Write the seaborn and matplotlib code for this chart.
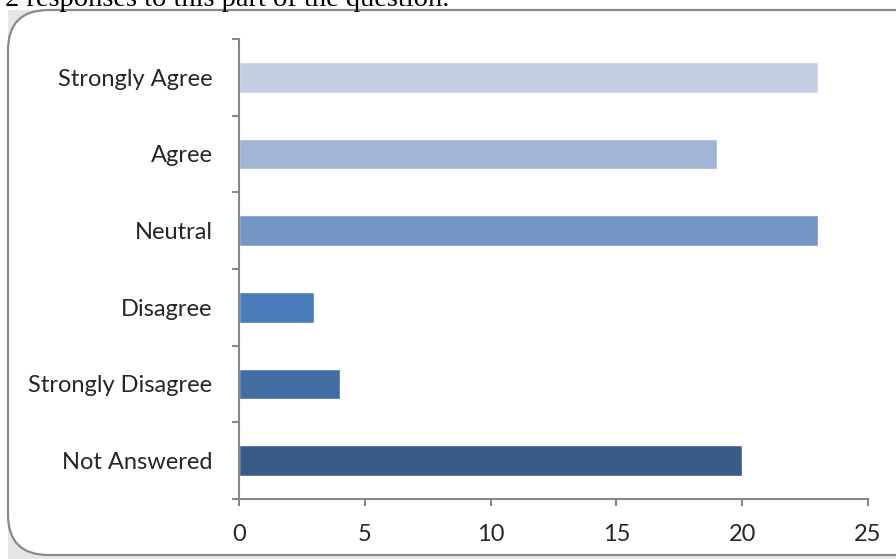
import matplotlib
matplotlib.use("Agg")
import matplotlib.pyplot as plt
from matplotlib.patches import FancyBboxPatch, Rectangle
from matplotlib.ticker import FixedLocator
import seaborn as sns
import pandas as pd

# Data (top to bottom)
categories = ["Strongly Agree", "Agree", "Neutral", "Disagree",
              "Strongly Disagree", "Not Answered"]
counts = [23, 19, 23, 3, 4, 20]
bar_colors = ["#C3CEE2", "#A2B5D6", "#7396C5", "#4A7EBB", "#426DA2", "#395B87"]
x_ticks = [0, 5, 10, 15, 20, 25]
caption = "2 responses to this part of the question."

df = pd.DataFrame({"response": categories, "count": counts})

sns.set_style("white")
plt.rcParams['font.family'] = ['Lato', 'DejaVu Sans']

W, H = 896, 559
fig = plt.figure(figsize=(W / 100, H / 100), dpi=100)

# rounded chart frame, grey behind the corners
fig.patches.append(Rectangle((8 / W, 0), 1 - 8 / W, 1 - 10 / H,
                             transform=fig.transFigure, facecolor="#e6e6e6",
                             edgecolor="none", zorder=0))
fig.patches.append(FancyBboxPatch((8 / W, 4 / H), 1.2, 1 - 14 / H,
                                  boxstyle="round,pad=0,rounding_size=0.045",
                                  mutation_aspect=W / H,
                                  transform=fig.transFigure, facecolor="white",
                                  edgecolor="#8a8a8a", linewidth=1.6, zorder=1))

fig.text(5 / W, 1 - 6 / H, caption, family="Liberation Serif", fontsize=20.5,
         va="baseline", ha="left", color="black")

ax = fig.add_axes([239 / W, 1 - 499 / H, 629 / W, 460 / H])
ax.set_zorder(2)
ax.patch.set_alpha(0)

sns.barplot(data=df, x="count", y="response", hue="response",
            palette=bar_colors, order=categories, width=0.4,
            orient="h", legend=False, ax=ax, saturation=1)

ax.set_xlim(0, 25)
ax.set_ylim(len(categories) - 0.5, -0.5)
ax.set_xticks(x_ticks)
ax.set_xlabel("")
ax.set_ylabel("")

grey = "#878787"
for side in ["top", "right"]:
    ax.spines[side].set_visible(False)
for side in ["left", "bottom"]:
    ax.spines[side].set_color(grey)
    ax.spines[side].set_linewidth(1.5)

ax.yaxis.set_minor_locator(FixedLocator([i - 0.5 for i in range(len(categories) + 1)]))
ax.tick_params(axis="y", which="major", length=0, pad=19, labelsize=17)
ax.tick_params(axis="y", which="minor", length=5, width=1.5, color=grey, left=True)
ax.tick_params(axis="x", which="major", length=5, width=1.5, color=grey,
               bottom=True, pad=13, labelsize=17)

fig.savefig("out.png", dpi=100)
